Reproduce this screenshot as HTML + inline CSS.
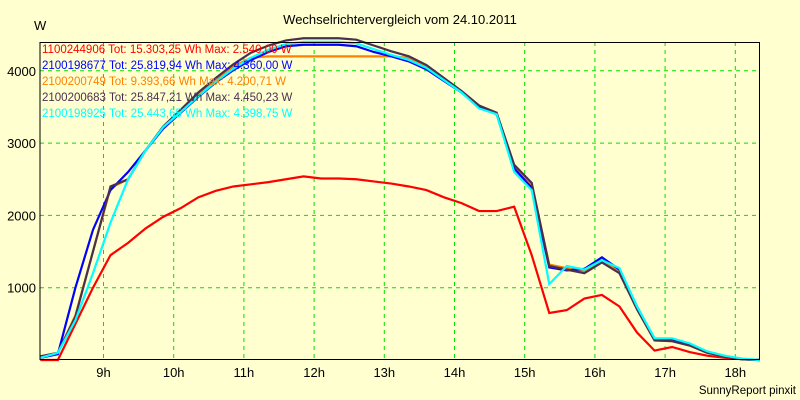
<!DOCTYPE html>
<html><head><meta charset="utf-8"><style>
body{margin:0;background:#ffffd0;}
svg{display:block;font-family:"Liberation Sans",Arial,sans-serif;}
</style></head><body>
<svg width="800" height="400">
<rect width="800" height="400" fill="#ffffd0"/>
<text x="400" y="24" font-size="13" text-anchor="middle">Wechselrichtervergleich vom 24.10.2011</text>
<text x="34" y="30" font-size="13">W</text>
<g id="grid"></g><g id="series"></g>
<line x1="40" y1="42" x2="40" y2="360" stroke="#000"/>
<line x1="40" y1="359.5" x2="760" y2="359.5" stroke="#000"/>
<line x1="759.5" y1="42" x2="759.5" y2="360" stroke="#000"/>
<line x1="40" y1="42.5" x2="760" y2="42.5" stroke="#000"/>
<g id="ticks"></g>
<g font-size="11.5">
<text x="42" y="53" fill="#ff0000">1100244906 Tot: 15.303,25 Wh Max: 2.540,00 W</text>
<text x="42" y="69" fill="#0000ff">2100198677 Tot: 25.819,94 Wh Max: 4.360,00 W</text>
<text x="42" y="85" fill="#ff8000">2100200749 Tot: 9.393,66 Wh Max: 4.200,71 W</text>
<text x="42" y="101" fill="#4a3050">2100200683 Tot: 25.847,21 Wh Max: 4.450,23 W</text>
<text x="42" y="117" fill="#00ffff">2100198925 Tot: 25.443,65 Wh Max: 4.398,75 W</text>
</g>
<text x="796" y="394" font-size="11.5" text-anchor="end">SunnyReport pinxit</text>
</svg>
<script>
const times=[8.1,8.35,8.6,8.85,9.1,9.35,9.6,9.85,10.1,10.35,10.6,10.85,11.1,11.35,11.6,11.85,12.1,12.35,12.6,12.85,13.1,13.35,13.6,13.85,14.1,14.35,14.6,14.85,15.1,15.35,15.6,15.85,16.1,16.35,16.6,16.85,17.1,17.35,17.6,17.85,18.1,18.35];
const red=[0,0,500,1000,1450,1620,1820,1980,2100,2250,2340,2400,2430,2460,2500,2540,2510,2510,2500,2470,2440,2400,2350,2250,2170,2060,2060,2120,1450,650,690,850,900,740,380,130,180,110,60,30,10,0];
const orange=[50,100,620,1500,2380,2500,2900,3220,3450,3680,3880,4060,4180,4200,4200,4200,4200,4200,4200,4200,4200,4180,4060,3880,3700,3500,3400,2680,2420,1320,1270,1220,1370,1220,710,270,260,200,100,50,10,0];
const blue=[30,80,1000,1800,2350,2600,2900,3200,3420,3640,3840,4010,4150,4260,4340,4360,4360,4360,4340,4260,4200,4130,4020,3860,3700,3500,3400,2650,2380,1280,1240,1260,1420,1250,740,290,290,220,110,50,10,0];
const dark=[50,100,600,1500,2400,2500,2900,3230,3460,3700,3900,4090,4250,4350,4420,4450,4450,4450,4430,4350,4270,4200,4080,3900,3720,3520,3420,2700,2450,1300,1250,1200,1350,1200,700,270,260,200,100,50,10,0];
const cyan=[30,100,550,1200,1900,2500,2900,3220,3430,3650,3850,4030,4180,4290,4370,4400,4400,4400,4380,4300,4220,4150,4040,3870,3700,3480,3400,2600,2350,1050,1300,1250,1380,1270,740,300,300,230,120,60,20,0];
const hourTicks=[9,10,11,12,13,14,15,16,17,18];
const valueTicks=[1000,2000,3000,4000];
const x=t=>103.5+70.2*(t-9);
const y=v=>360-v*0.0723;
const NS='http://www.w3.org/2000/svg';
const grid=document.getElementById('grid'),ticks=document.getElementById('ticks'),ser=document.getElementById('series');
function mk(tag,attrs,parent){const e=document.createElementNS(NS,tag);for(const k in attrs)e.setAttribute(k,attrs[k]);parent.appendChild(e);return e;}
hourTicks.forEach(h=>{
 const l=mk('line',{x1:x(h),x2:x(h),y1:42,y2:360,stroke:'#00e000','stroke-dasharray':'4,4'},grid);
 
 
 const t=mk('text',{x:x(h),y:377,'font-size':13,'text-anchor':'middle'},ticks);
 t.textContent=h+'h';
 
 
});
valueTicks.forEach(v=>{
 const l=mk('line',{x1:40,x2:760,y1:y(v),y2:y(v),stroke:'#00e000','stroke-dasharray':'4,4'},grid);
 
 
 const t=mk('text',{x:36,y:y(v)+5,'font-size':13,'text-anchor':'end'},ticks);
 t.textContent=v;
 
 
});
[[red,'#ff0000','series-1100244906'],[orange,'#ff8000','series-2100200749'],[blue,'#0000ff','series-2100198677'],[dark,'#4a3050','series-2100200683'],[cyan,'#00ffff','series-2100198925']].forEach(([d,c,n])=>{
 const p=mk('polyline',{points:d.map((v,i)=>x(times[i])+','+y(v)).join(' '),fill:'none',stroke:c,'stroke-width':2.2},ser);
 
 
});
</script>
</body></html>
